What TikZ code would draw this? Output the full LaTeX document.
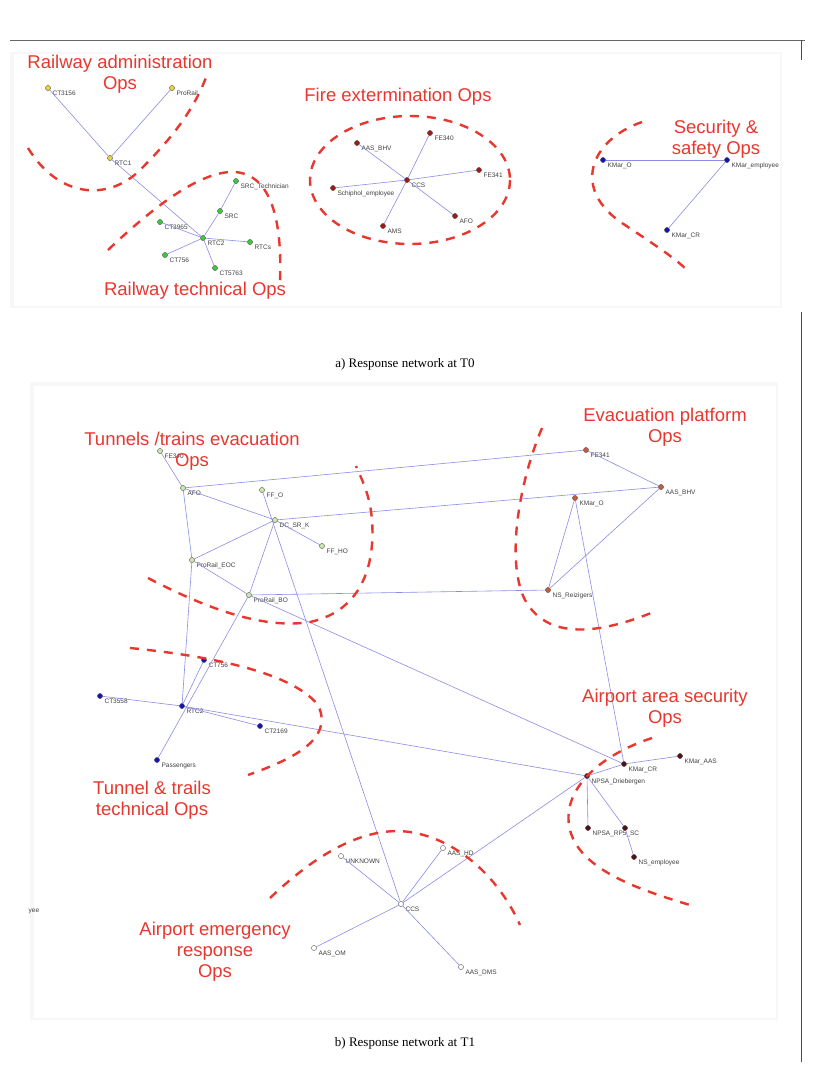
\documentclass[tikz,border=0pt]{standalone}
\usepackage{fontspec}
\setmainfont{Liberation Serif}
\setsansfont{Liberation Sans}
\definecolor{opsred}{HTML}{E8372F}
\definecolor{edgeblue}{HTML}{8C8CE6}
\definecolor{yel}{HTML}{E8D43A}
\definecolor{grn}{HTML}{3CC83C}
\definecolor{dred}{HTML}{A01818}
\definecolor{blu}{HTML}{1414B4}
\definecolor{lgrn}{HTML}{C8E8A8}
\definecolor{orn}{HTML}{C85A3C}
\definecolor{mar}{HTML}{501010}
\tikzset{
  vtx/.style={circle, inner sep=0pt, minimum size=5pt, fill=#1, draw=black!60, line width=0.3pt},
  lab/.style={font=\sffamily\fontsize{6.5}{7}\selectfont, text=black!75, inner sep=1pt, xshift=1.5pt},
  ops/.style={font=\sffamily\fontsize{18.5}{21}\selectfont, text=opsred, align=center},
  edge/.style={edgeblue, line width=0.6pt},
  bound/.style={opsred, line width=2.4pt, dash pattern=on 9pt off 8pt}
}
\begin{document}
\begin{tikzpicture}[x=1pt, y=-1pt]
    \useasboundingbox[fill=white] (0,0) rectangle (820,1088);

    % Frame lines of the page.
    \draw[black!60, line width=0.6pt] (10,40) to (805,40);
    \draw[black!70, line width=0.8pt] (801,40) to (801,60);
    \draw[black!70, line width=0.8pt] (801,312) to (801,1062);
    \fill[black!3] (10,52) rectangle (782,308);
    \fill[white] (14,54) rectangle (780,306);
    \fill[black!3] (30,382) rectangle (778,1020);
    \fill[white] (34,386) rectangle (776,1018);

    % ---------- a) network at T0 ----------
    \node[vtx=yel, label={[lab]below right:CT3156}] (a-ct3156) at (48,88) {};
    \node[vtx=yel, label={[lab]below right:ProRail}] (a-prorail) at (172,88) {};
    \node[vtx=yel, label={[lab]below right:RTC1}] (a-rtc1) at (110,158) {};
    \node[vtx=grn, label={[lab]below right:SRC\_Technician}] (a-srctech) at (236,181) {};
    \node[vtx=grn, label={[lab]below right:SRC}] (a-src) at (220,211) {};
    \node[vtx=grn, label={[lab]below right:CT3965}] (a-ct3965) at (160,222) {};
    \node[vtx=grn, label={[lab]below right:RTC2}] (a-rtc2) at (203,238) {};
    \node[vtx=grn, label={[lab]below right:RTCs}] (a-rtcs) at (250,242) {};
    \node[vtx=grn, label={[lab]below right:CT756}] (a-ct756) at (165,255) {};
    \node[vtx=grn, label={[lab]below right:CT5763}] (a-ct5763) at (215,268) {};

    \node[vtx=dred, label={[lab]below right:AAS\_BHV}] (a-aasbhv) at (357,143) {};
    \node[vtx=dred, label={[lab]below right:FE340}] (a-fe340) at (430,133) {};
    \node[vtx=dred, label={[lab]below right:FE341}] (a-fe341) at (479,170) {};
    \node[vtx=dred, label={[lab]below right:Schiphol\_employee}] (a-schiphol) at (333,188) {};
    \node[vtx=dred, label={[lab]below right:CCS}] (a-ccs) at (407,180) {};
    \node[vtx=dred, label={[lab]below right:AFO}] (a-afo) at (455,216) {};
    \node[vtx=dred, label={[lab]below right:AMS}] (a-ams) at (383,226) {};

    \node[vtx=blu, label={[lab]below right:KMar\_O}] (a-kmaro) at (603,160) {};
    \node[vtx=blu, label={[lab]below right:KMar\_employee}] (a-kmaremp) at (727,160) {};
    \node[vtx=blu, label={[lab]below right:KMar\_CR}] (a-kmarcr) at (667,230) {};

    \draw[edge] (a-ct3156) to (a-rtc1);
    \draw[edge] (a-prorail) to (a-rtc1);
    \draw[edge] (a-rtc1) to (a-rtc2);
    \draw[edge] (a-srctech) to (a-src);
    \draw[edge] (a-src) to (a-rtc2);
    \foreach \n in {ct3965, rtcs, ct756, ct5763}
        \draw[edge] (a-rtc2) to (a-\n);
    \foreach \n in {aasbhv, fe340, fe341, schiphol, afo, ams}
        \draw[edge] (a-ccs) to (a-\n);
    \draw[edge] (a-kmaro) to (a-kmaremp);
    \draw[edge] (a-kmaremp) to (a-kmarcr);

    % Group boundaries at T0.
    \draw[bound] (28,148) .. controls (60,200) and (110,200) .. (140,170) .. controls (170,140) and (195,110) .. (208,72);
    \draw[bound] (108,250) .. controls (150,210) and (200,170) .. (235,172) .. controls (275,175) and (282,230) .. (280,282);
    \draw[bound] (410,180) ellipse (100 and 64);
    \draw[bound] (642,122) .. controls (590,140) and (570,190) .. (625,225) .. controls (655,245) and (675,258) .. (688,271);

    \node[ops] (a-admin) at (120,74) {Railway administration\\Ops};
    \node[ops] (a-fire) at (398,97) {Fire extermination Ops};
    \node[ops] (a-secur) at (716,139) {Security \&\\safety Ops};
    \node[ops] (a-tech) at (195,291) {Railway technical Ops};

    \node[font=\fontsize{13}{15}\selectfont] (a-caption) at (405,364) {a) Response network at T0};

    % ---------- b) network at T1 ----------
    \node[vtx=lgrn, label={[lab]below right:FE340}] (b-fe340) at (160,451) {};
    \node[vtx=lgrn, label={[lab]below right:AFO}] (b-afo) at (183,488) {};
    \node[vtx=lgrn, label={[lab]below right:FF\_O}] (b-ffo) at (262,490) {};
    \node[vtx=lgrn, label={[lab]below right:DC\_SR\_K}] (b-dcsrk) at (275,520) {};
    \node[vtx=lgrn, label={[lab]below right:FF\_HO}] (b-ffho) at (322,546) {};
    \node[vtx=lgrn, label={[lab]below right:ProRail\_EOC}] (b-eoc) at (192,560) {};
    \node[vtx=lgrn, label={[lab]below right:ProRail\_BO}] (b-bo) at (249,595) {};

    \node[vtx=orn, label={[lab]below right:FE341}] (b-fe341) at (586,450) {};
    \node[vtx=orn, label={[lab]below right:AAS\_BHV}] (b-aasbhv) at (661,487) {};
    \node[vtx=orn, label={[lab]below right:KMar\_O}] (b-kmaro) at (575,498) {};
    \node[vtx=orn, label={[lab]below right:NS\_Reizigers}] (b-nsreiz) at (548,590) {};

    \node[vtx=blu, label={[lab]below right:CT756}] (b-ct756) at (204,660) {};
    \node[vtx=blu, label={[lab]below right:CT3558}] (b-ct3558) at (100,696) {};
    \node[vtx=blu, label={[lab]below right:RTC2}] (b-rtc2) at (182,706) {};
    \node[vtx=blu, label={[lab]below right:CT2169}] (b-ct2169) at (260,726) {};
    \node[vtx=blu, label={[lab]below right:Passengers}] (b-pass) at (157,760) {};

    \node[vtx=mar, label={[lab]below right:KMar\_CR}] (b-kmarcr) at (624,764) {};
    \node[vtx=mar, label={[lab]below right:KMar\_AAS}] (b-kmaraas) at (680,756) {};
    \node[vtx=mar, label={[lab]below right:NPSA\_Driebergen}] (b-npsad) at (587,776) {};
    \node[vtx=mar, label={[lab]below right:NPSA\_RP5\_SC}] (b-npsarp) at (588,828) {};
    \node[vtx=mar] (b-npsax) at (625,828) {};
    \node[vtx=mar, label={[lab]below right:NS\_employee}] (b-nsemp) at (634,857) {};

    \node[vtx=white, label={[lab]below right:UNKNOWN}] (b-unknown) at (341,856) {};
    \node[vtx=white, label={[lab]below right:AAS\_HD}] (b-aashd) at (443,848) {};
    \node[vtx=white, label={[lab]below right:CCS}] (b-ccs) at (401,904) {};
    \node[vtx=white, label={[lab]below right:AAS\_OM}] (b-aasom) at (314,948) {};
    \node[vtx=white, label={[lab]below right:AAS\_DMS}] (b-aasdms) at (461,967) {};

    \node[lab, anchor=west] (b-cut) at (26,911) {yee};

    \draw[edge] (b-fe340) to (b-afo);
    \draw[edge] (b-afo) to (b-fe341);
    \draw[edge] (b-afo) to (b-dcsrk);
    \draw[edge] (b-afo) to (b-eoc);
    \draw[edge] (b-eoc) to (b-rtc2);
    \draw[edge] (b-ffo) to (b-ccs);
    \draw[edge] (b-dcsrk) to (b-ffho);
    \draw[edge] (b-dcsrk) to (b-eoc);
    \draw[edge] (b-dcsrk) to (b-bo);
    \draw[edge] (b-dcsrk) to (b-aasbhv);
    \draw[edge] (b-eoc) to (b-bo);
    \draw[edge] (b-bo) to (b-nsreiz);
    \draw[edge] (b-bo) to (b-kmarcr);
    \draw[edge] (b-bo) to (b-pass);
    \draw[edge] (b-ct756) to (b-rtc2);
    \draw[edge] (b-fe341) to (b-aasbhv);
    \draw[edge] (b-aasbhv) to (b-nsreiz);
    \draw[edge] (b-kmaro) to (b-nsreiz);
    \draw[edge] (b-kmaro) to (b-kmarcr);
    \draw[edge] (b-ct3558) to (b-rtc2);
    \draw[edge] (b-rtc2) to (b-ct2169);
    \draw[edge] (b-rtc2) to (b-npsad);
    \draw[edge] (b-kmarcr) to (b-kmaraas);
    \draw[edge] (b-kmarcr) to (b-npsad);
    \draw[edge] (b-npsad) to (b-ccs);
    \draw[edge] (b-npsad) to (b-npsarp);
    \draw[edge] (b-npsad) to (b-npsax);
    \draw[edge] (b-npsax) to (b-nsemp);
    \foreach \n in {unknown, aashd, aasom, aasdms}
        \draw[edge] (b-ccs) to (b-\n);

    % Redraw nodes over the edges.
    \foreach \n/\c in {fe340/lgrn, afo/lgrn, ffo/lgrn, dcsrk/lgrn, ffho/lgrn, eoc/lgrn, bo/lgrn,
        fe341/orn, aasbhv/orn, kmaro/orn, nsreiz/orn, ct756/blu, ct3558/blu, rtc2/blu, ct2169/blu, pass/blu,
        kmarcr/mar, kmaraas/mar, npsad/mar, npsarp/mar, npsax/mar, nsemp/mar,
        unknown/white, aashd/white, ccs/white, aasom/white, aasdms/white}
        \node[vtx=\c] at (b-\n) {};
    \foreach \n/\c in {ct3156/yel, prorail/yel, rtc1/yel, srctech/grn, src/grn, ct3965/grn, rtc2/grn, rtcs/grn,
        ct756/grn, ct5763/grn, aasbhv/dred, fe340/dred, fe341/dred, schiphol/dred, ccs/dred, afo/dred, ams/dred,
        kmaro/blu, kmaremp/blu, kmarcr/blu}
        \node[vtx=\c] at (a-\n) {};

    % Group boundaries at T1.
    \draw[bound] (148,578) .. controls (200,605) and (260,630) .. (310,622) .. controls (365,610) and (375,560) .. (372,520) .. controls (370,495) and (362,480) .. (356,466);
    \draw[bound] (542,428) .. controls (520,480) and (505,560) .. (525,600) .. controls (550,645) and (610,630) .. (656,611);
    \draw[bound] (130,648) .. controls (200,655) and (290,670) .. (318,705) .. controls (335,740) and (290,760) .. (248,775);
    \draw[bound] (652,738) .. controls (600,755) and (560,790) .. (570,830) .. controls (580,870) and (640,890) .. (690,905);
    \draw[bound] (270,898) .. controls (310,860) and (360,825) .. (410,832) .. controls (460,840) and (500,880) .. (520,925);

    \node[ops] (b-tunnels) at (192,451) {Tunnels /trains evacuation\\Ops};
    \node[ops] (b-evac) at (665,427) {Evacuation platform\\Ops};
    \node[ops] (b-airsec) at (665,708) {Airport area security\\Ops};
    \node[ops] (b-trails) at (152,800) {Tunnel \& trails\\technical Ops};
    \node[ops] (b-airemg) at (215,952) {Airport emergency\\response\\Ops};

    \node[font=\fontsize{13}{15}\selectfont] (b-caption) at (405,1043) {b) Response network at T1};
\end{tikzpicture}
\end{document}
